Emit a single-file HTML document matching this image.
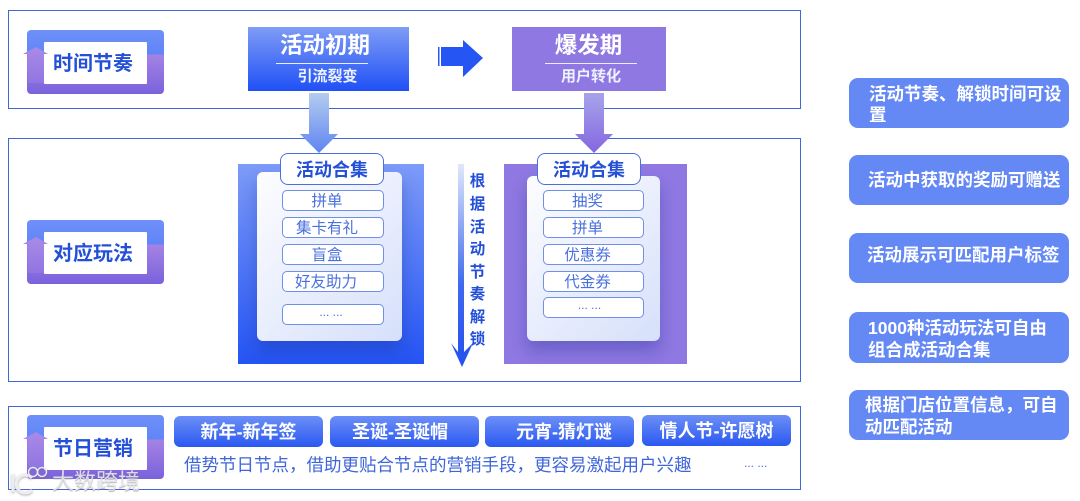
<!DOCTYPE html>
<html lang="zh"><head><meta charset="utf-8">
<style>
html,body{margin:0;padding:0;background:#fff}
body{width:1080px;height:501px;position:relative;overflow:hidden;font-family:"Liberation Sans","Noto Sans CJK SC",sans-serif}
div{position:absolute;box-sizing:border-box;white-space:nowrap}
.fr{border:1.5px solid #3f67d8;background:#fff;left:8px;width:793px}
.lb{left:27px;width:137px;height:64px;border-radius:4px;background:linear-gradient(#6f90f8 0,#6085f8 38%,#a583e4 38%,#7a62dc 100%)}
.lw{left:44px;width:103px;height:42px;background:#fff;color:#2450d8;font-size:20px;font-weight:700;text-align:center;line-height:45px;padding-right:5px;border-radius:1px}
.t{color:#fff;font-weight:700;text-align:center}
.card{border-radius:6px;background:linear-gradient(135deg,#fdfdff,#d6e0fb);box-shadow:0 10px 16px rgba(20,40,140,.3)}
.tab{background:#fff;border:1.5px solid #4a70e0;border-radius:8px;color:#2450d8;font-size:18px;font-weight:700;text-align:center;line-height:32px}
.it{background:#fff;border:1.5px solid #6f8fe8;border-radius:5px;color:#4a70dd;font-size:15.5px;text-align:center;height:21px;line-height:21px;width:102px;padding-right:12px}
.bt{top:416px;height:31px;width:149px;border-radius:6px;background:linear-gradient(#6c8ff6,#2a58f2);color:#fff;font-size:18px;font-weight:700;text-align:center;line-height:33px}
.r{left:849px;width:220px;background:#6489f5;border-radius:9px;color:#fff;font-size:17.5px;font-weight:700;line-height:22px}
.r span{position:absolute;white-space:nowrap}
.v{left:469px;width:17px;text-align:center;color:#2450d8;font-size:15.5px;font-weight:700;line-height:22px;height:20px}
</style></head><body>

<div class="fr" style="top:10px;height:99px"></div>
<div class="fr" style="top:138px;height:244px"></div>
<div class="fr" style="top:406px;height:84px"></div>

<!-- left labels -->
<div class="lb" style="top:30px"></div>
<div class="lw" style="top:42px">时间节奏</div>
<svg style="position:absolute;left:22px;top:47px" width="28" height="36"><defs><linearGradient id="u" x1="0" y1="0" x2="0" y2="1"><stop offset="0" stop-color="#a98ae6"/><stop offset="1" stop-color="#9076e2"/></linearGradient></defs><polygon points="1,7 14,0 26,7 22,7 22,36 6,36 6,7" fill="url(#u)"/></svg>

<div class="lb" style="top:220px"></div>
<div class="lw" style="top:232px">对应玩法</div>
<svg style="position:absolute;left:22px;top:237px" width="28" height="36"><polygon points="1,7 14,0 26,7 22,7 22,36 6,36 6,7" fill="url(#u)"/></svg>

<div class="lb" style="top:415px;height:64px"></div>
<div class="lw" style="top:427px;height:43px">节日营销</div>
<svg style="position:absolute;left:22px;top:432px" width="28" height="36"><polygon points="1,7 14,0 26,7 22,7 22,36 6,36 6,7" fill="url(#u)"/></svg>

<!-- stage boxes -->
<div style="left:248px;top:27px;width:161px;height:64px;background:linear-gradient(#7f9cf6,#2050f6)"></div>
<div class="t" style="left:248px;top:28px;width:161px;height:34px;line-height:36px;font-size:22.5px;padding-right:7px">活动初期</div>
<div style="left:276px;top:62.5px;width:92px;height:1px;background:#e8eeff"></div>
<div class="t" style="left:248px;top:65px;width:161px;height:22px;line-height:24px;font-size:15px;padding-right:2px;color:#eef2ff">引流裂变</div>

<div style="left:512px;top:27px;width:154px;height:64px;background:#8f78e2"></div>
<div class="t" style="left:512px;top:28px;width:154px;height:34px;line-height:36px;font-size:22.5px;padding-right:1px">爆发期</div>
<div style="left:545px;top:63px;width:92px;height:1px;background:#e8eeff"></div>
<div class="t" style="left:512px;top:65px;width:154px;height:22px;line-height:24px;font-size:15px;padding-left:4px;color:#eef2ff">用户转化</div>

<svg style="position:absolute;left:436px;top:38px" width="50" height="40">
<rect x="2" y="9" width="1.5" height="19" fill="#2a58f2"/>
<polygon points="5,9 27,9 27,2 47,20 27,39 27,28 5,28" fill="#2556f4"/></svg>

<!-- down arrows -->
<svg style="position:absolute;left:298px;top:92px" width="42" height="64">
<defs><linearGradient id="a1" x1="0" y1="0" x2="0" y2="1"><stop offset="0" stop-color="#b4cdee"/><stop offset="1" stop-color="#5f84f2"/></linearGradient>
<linearGradient id="a2" x1="0" y1="0" x2="0" y2="1"><stop offset="0" stop-color="#a6a4ea"/><stop offset="1" stop-color="#8566e0"/></linearGradient></defs>
<polygon points="11,1 31,1 31,42 40,42 21,61 2,42 11,42" fill="url(#a1)"/></svg>
<svg style="position:absolute;left:573px;top:92px" width="42" height="64">
<polygon points="11,1 31,1 31,42 40,42 21,61 2,42 11,42" fill="url(#a2)"/></svg>

<!-- left panel -->
<div style="left:238px;top:164px;width:186px;height:200px;background:linear-gradient(#7d9bf8,#2454f4)"></div>
<div class="card" style="left:257px;top:172px;width:145px;height:169px"></div>
<div class="tab" style="left:280px;top:153px;width:104px;height:32px">活动合集</div>
<div class="it" style="left:282px;top:190px">拼单</div>
<div class="it" style="left:282px;top:217px">集卡有礼</div>
<div class="it" style="left:282px;top:244px">盲盒</div>
<div class="it" style="left:282px;top:271px;padding-right:14px">好友助力</div>
<div class="it" style="left:282px;top:304px;font-size:12px;line-height:15px;padding-right:4px">... ...</div>

<!-- vertical arrow -->
<svg style="position:absolute;left:449px;top:162px" width="26" height="208">
<defs><linearGradient id="a3" x1="0" y1="0" x2="0" y2="1"><stop offset="0" stop-color="#dfe8fa"/><stop offset=".6" stop-color="#3f68ee"/><stop offset="1" stop-color="#2450ee"/></linearGradient></defs>
<polygon points="9,2 15,2 15,190 24,181 13,205 2,181 9,190" fill="url(#a3)"/></svg>
<div class="v" style="top:171px">根</div>
<div class="v" style="top:194px">据</div>
<div class="v" style="top:217px">活</div>
<div class="v" style="top:239px">动</div>
<div class="v" style="top:262px">节</div>
<div class="v" style="top:284px">奏</div>
<div class="v" style="top:307px">解</div>
<div class="v" style="top:329px">锁</div>

<!-- right panel -->
<div style="left:504px;top:164px;width:183px;height:200px;background:#8f78e2"></div>
<div class="card" style="left:527px;top:176px;width:133px;height:165px"></div>
<div class="tab" style="left:537px;top:153px;width:104px;height:32px">活动合集</div>
<div class="it" style="left:543px;top:190px;width:101px">抽奖</div>
<div class="it" style="left:543px;top:217px;width:101px">拼单</div>
<div class="it" style="left:543px;top:244px;width:101px">优惠券</div>
<div class="it" style="left:543px;top:271px;width:101px">代金券</div>
<div class="it" style="left:543px;top:297px;width:101px;font-size:12px;line-height:15px;padding-right:8px">... ...</div>

<!-- bottom row -->
<div class="bt" style="left:174px">新年-新年签</div>
<div class="bt" style="left:330px;padding-right:9px">圣诞-圣诞帽</div>
<div class="bt" style="left:485px;padding-left:9px">元宵-猜灯谜</div>
<div class="bt" style="left:642px;top:415px">情人节-许愿树</div>
<div style="left:184px;top:452px;height:26px;line-height:26px;font-size:17.5px;color:#3f66d8;width:520px">借势节日节点，借助更贴合节点的营销手段，更容易激起用户兴趣</div>
<div style="left:744px;top:456px;height:16px;line-height:14px;font-size:12px;color:#4a70dd">... ...</div>

<!-- right notes -->
<div class="r" style="top:78px;height:50px"><span style="left:20px;top:6px;line-height:21px">活动节奏、解锁时间可设<br>置</span></div>
<div class="r" style="top:155px;height:50px"><span style="left:19px;top:14px">活动中获取的奖励可赠送</span></div>
<div class="r" style="top:233px;height:50px"><span style="left:18px;top:11px">活动展示可匹配用户标签</span></div>
<div class="r" style="top:312px;height:51px"><span style="left:19px;top:5px">1000种活动玩法可自由<br>组合成活动合集</span></div>
<div class="r" style="top:390px;height:50px"><span style="left:16px;top:4px">根据门店位置信息，可自<br>动匹配活动</span></div>

<!-- watermark -->
<svg style="position:absolute;left:8px;top:466px;filter:drop-shadow(0 1px 1px rgba(110,110,110,.55))" width="44" height="30" fill="none" stroke="#eeeef2" stroke-width="3" opacity=".95">
<path d="M5 8v18"/><path d="M24 12a9 9 0 1 0 0 12"/><circle cx="25" cy="6" r="4.5" stroke-width="1.5"/><circle cx="34" cy="6" r="4.5" stroke-width="1.5"/></svg>
<div style="left:52px;top:469px;height:26px;line-height:26px;font-size:22px;color:rgba(232,232,238,.9);text-shadow:0 1px 1px rgba(110,110,110,.55)">大数跨境</div>

</body></html>
